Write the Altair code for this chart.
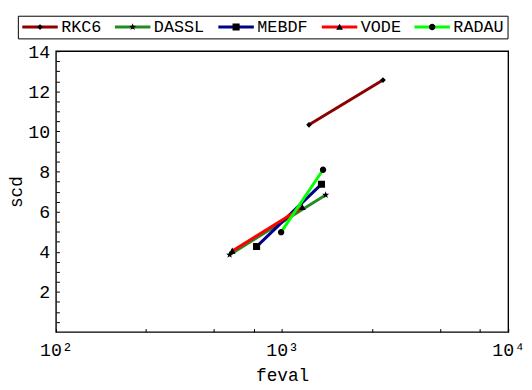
import altair as alt
import pandas as pd

series = ["RKC6", "DASSL", "MEBDF", "VODE", "RADAU"]
colors = ["#8b0000", "#228b22", "#00008b", "#ff0000", "#00ff00"]

rkc6_feval = [1315, 2793]
rkc6_scd = [10.33, 12.56]
dassl_feval = [586, 1558]
dassl_scd = [3.85, 6.83]
mebdf_feval = [771, 1493]
mebdf_scd = [4.26, 7.37]
vode_feval = [602, 1229]
vode_scd = [4.04, 6.21]
radau_feval = [990, 1517]
radau_scd = [4.98, 8.09]

x_tick_values = [100, 250, 500, 750, 1000, 2500, 5000, 7500, 10000]
y_tick_values = [0.5, 1, 1.5, 2, 2.5, 3, 3.5, 4, 4.5, 5, 5.5, 6, 6.5, 7, 7.5,
                 8, 8.5, 9, 9.5, 10, 10.5, 11, 11.5, 12, 12.5, 13, 13.5, 14]

FONT = "Liberation Mono"
ZW = "\u200b"  # zero-width prefix keeps the marker legend separate from the line legend
marker_names = [ZW + s for s in series]

B = "M-1,0L1,0"
marker_paths = [
    B + "M0,-0.16L0.16,0L0,0.16L-0.16,0Z",
    B + "M0,-0.21L0.049,-0.068L0.2,-0.065L0.08,0.026L0.123,0.17L0,0.084"
        "L-0.123,0.17L-0.08,0.026L-0.2,-0.065L-0.049,-0.068Z",
    B + "M-0.2,-0.2H0.2V0.2H-0.2Z",
    B + "M0,-0.19L0.19,0.15L-0.19,0.15Z",
    B + "M0.18,0A0.18,0.18 0 1,1 -0.18,0A0.18,0.18 0 1,1 0.18,0Z",
]

rows = []
for name, fv, sv in [("RKC6", rkc6_feval, rkc6_scd), ("DASSL", dassl_feval, dassl_scd),
                     ("MEBDF", mebdf_feval, mebdf_scd), ("VODE", vode_feval, vode_scd),
                     ("RADAU", radau_feval, radau_scd)]:
    for f, s in zip(fv, sv):
        rows.append({"series": name, "name": ZW + name, "feval": f, "scd": s})
df = pd.DataFrame(rows)

x_enc = alt.X("feval:Q",
              scale=alt.Scale(type="log", domain=[100, 10000], nice=False),
              axis=alt.Axis(values=x_tick_values, title="feval", offset=-3.5, tickSize=3.5,
                            domain=False, grid=False, tickColor="black", tickWidth=1,
                            labelExpr="datum.value == 100 ? ' 10²' : datum.value == 1000 ? ' 10³' : datum.value == 10000 ? ' 10⁴' : ''",
                            labelFont=FONT, labelFontSize=18.5, labelColor="black",
                            labelPadding=8.5, labelFlush=False, labelOverlap=False,
                            titleFont=FONT, titleFontSize=18, titleFontWeight="normal",
                            titleColor="black", titlePadding=8))
y_enc = alt.Y("scd:Q",
              scale=alt.Scale(domain=[0, 14], nice=False),
              axis=alt.Axis(values=y_tick_values, title="scd", offset=-3.5, tickSize=3.5,
                            domain=False, grid=False, tickColor="black", tickWidth=1,
                            labelExpr="datum.value % 2 == 0 ? format(datum.value, 'd') : ''",
                            labelFont=FONT, labelFontSize=18.5, labelColor="black",
                            labelPadding=6.5, labelFlush=False, labelOverlap=False,
                            titleFont=FONT, titleFontSize=18, titleFontWeight="normal",
                            titleColor="black", titlePadding=2))

legend_common = dict(title=" ", titleOrient="left", titleFont=FONT, titleFontSize=10,
                     titlePadding=0, orient="none", direction="horizontal", columns=5,
                     legendX=-38.7, legendY=-36, symbolSize=1296, labelFont=FONT,
                     labelFontSize=17, labelColor="black", labelOffset=2,
                     columnPadding=12, padding=3, clipHeight=17)

color_legend = alt.Legend(symbolType="stroke", symbolStrokeWidth=3, strokeColor="black",
                          labelOpacity=0,
                          labelExpr="datum.label == 'RADAU' ? 'RADAU ' : datum.label",
                          **legend_common)
shape_legend = alt.Legend(symbolStrokeWidth=3, symbolStrokeColor="transparent",
                          symbolFillColor="black",
                          labelExpr="indexof(datum.label, 'RADAU') >= 0 ? datum.label + ' ' : datum.label",
                          **legend_common)

color_enc = alt.Color("series:N", scale=alt.Scale(domain=series, range=colors),
                      legend=color_legend)

layers = []
for s in series:
    layers.append(
        alt.Chart(df).transform_filter(alt.datum.series == s)
        .mark_line(strokeWidth=3)
        .encode(x=x_enc, y=y_enc, color=color_enc)
    )

points = alt.Chart(df).mark_point(filled=True, size=1296, opacity=1, color="black",
                                  strokeWidth=0).encode(
    x=x_enc, y=y_enc,
    shape=alt.Shape("name:N", scale=alt.Scale(domain=marker_names, range=marker_paths),
                    legend=shape_legend),
)
layers.append(points)

chart = alt.layer(*layers).properties(
    width=459, height=285,
    autosize=alt.AutoSizeParams(type="none"),
    padding={"left": 48.7, "top": 41, "right": 16, "bottom": 56},
    background="white",
).configure_view(stroke="black", strokeWidth=1.4)

chart.save("out.html", embed_options={"renderer": "svg", "actions": False})
